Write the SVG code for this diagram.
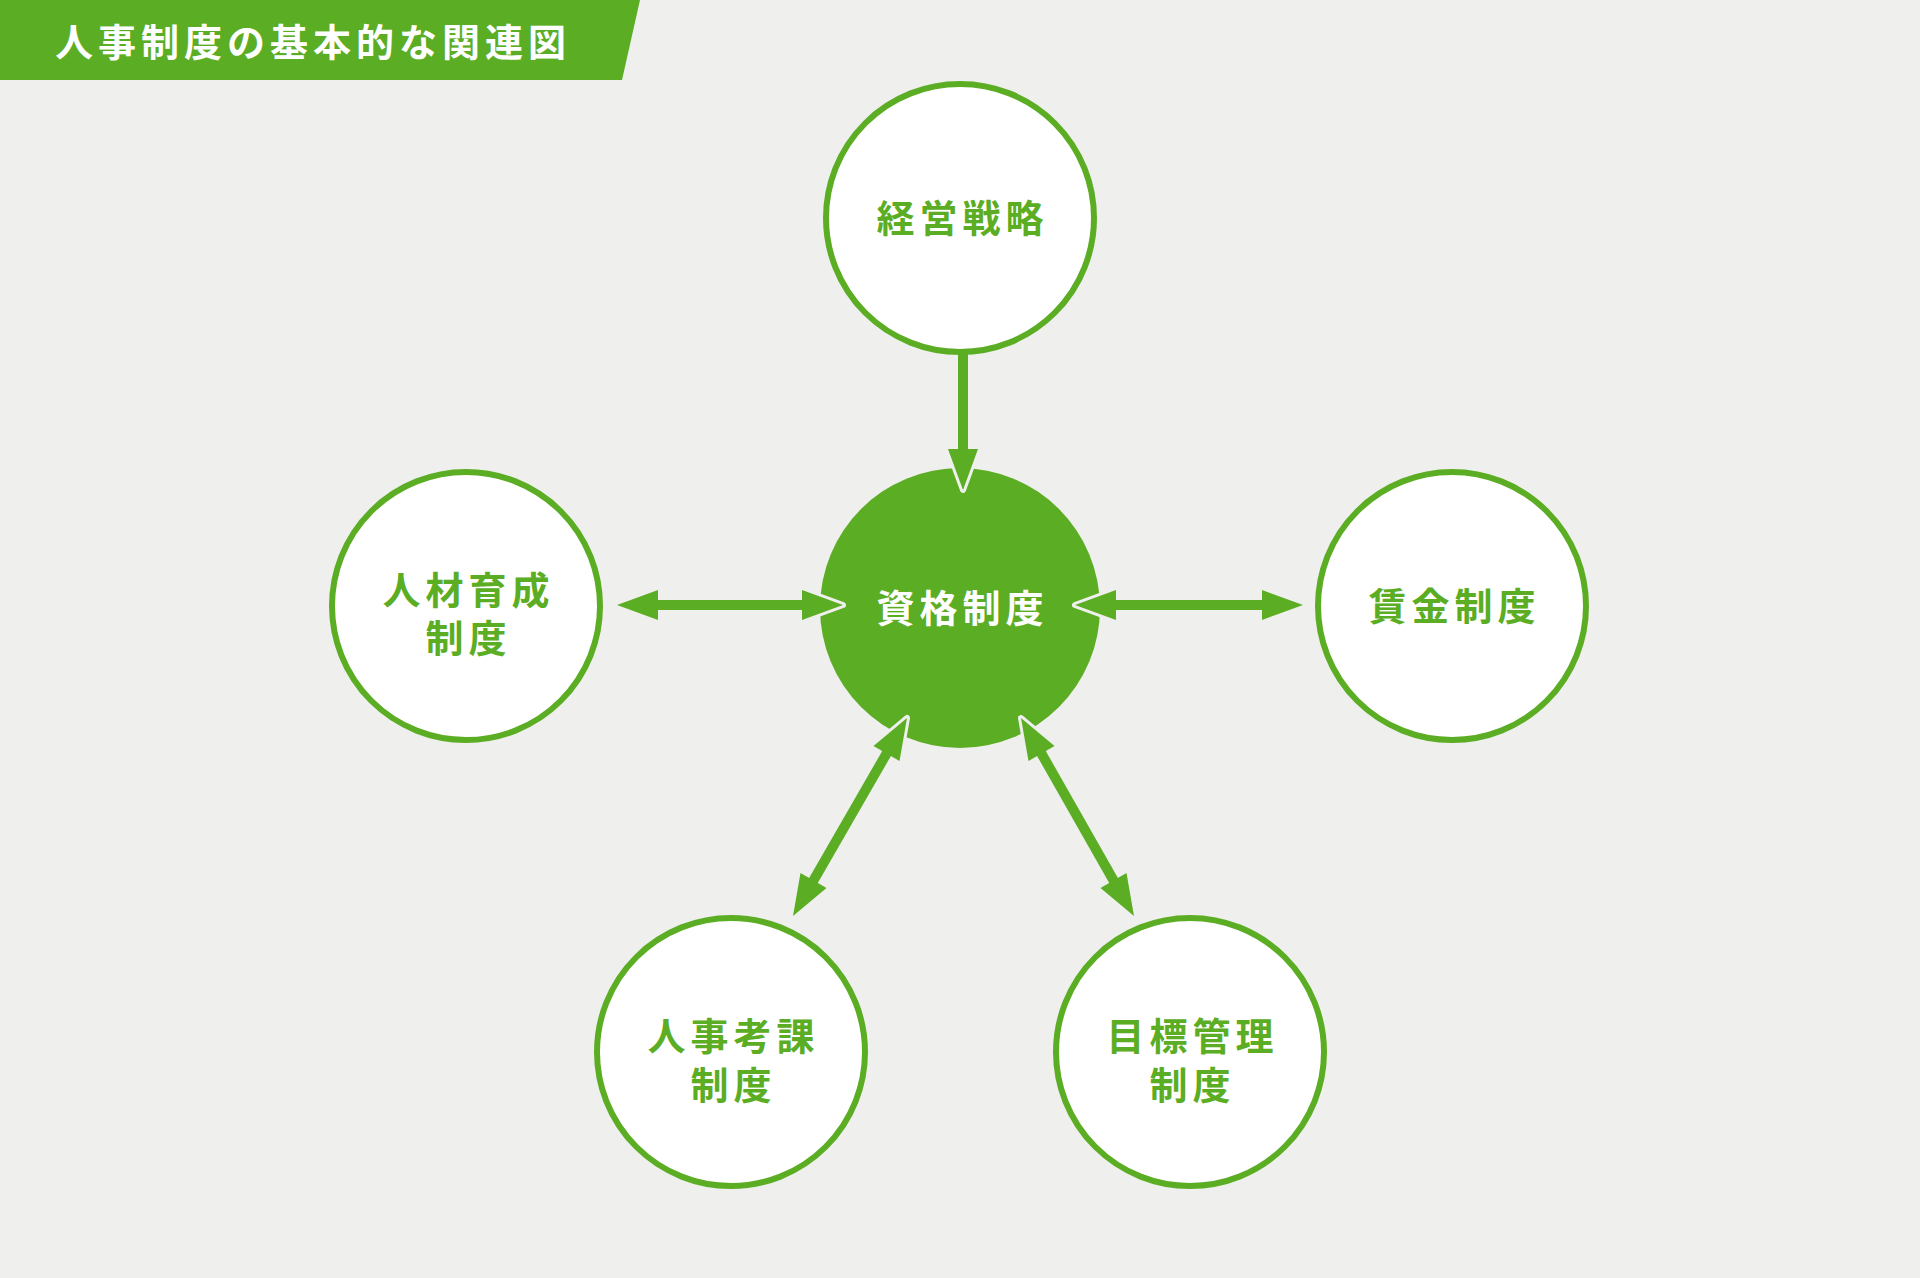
<svg xmlns="http://www.w3.org/2000/svg" width="1920" height="1278" viewBox="0 0 1920 1278">
<style>
.bg{fill:#efefed}
.node{fill:#ffffff;stroke:#5bad23;stroke-width:6}
.core{fill:#5bad23}
.lbl{font-family:"Noto Sans CJK JP","Noto Sans CJK SC",sans-serif;font-weight:700;font-size:38px;letter-spacing:5px;text-anchor:middle;fill:#5bad23}
.lbl.w{fill:#ffffff}
.title{font-family:"Noto Sans CJK JP","Noto Sans CJK SC",sans-serif;font-weight:700;font-size:38px;letter-spacing:5px;fill:#ffffff}
.head{fill:#5bad23;stroke:#efefed;stroke-width:6;stroke-linejoin:round;paint-order:stroke}
.shaft{stroke:#5bad23;stroke-width:10;fill:none}
</style>
<rect class="bg" x="0" y="0" width="1920" height="1278"/>
<g id="title">
<polygon points="0,0 640,0 622,80 0,80" fill="#5bad23"/>
<text class="title" x="55" y="56">人事制度の基本的な関連図</text>
</g>
<g id="node-strategy">
<circle class="node" cx="960" cy="218" r="134"/>
<text class="lbl" x="962.5" y="232">経営戦略</text>
</g>
<g id="node-qualification">
<circle class="core" cx="960" cy="608" r="140"/>
<text class="lbl w" x="962.5" y="622">資格制度</text>
</g>
<g id="node-development">
<circle class="node" cx="466" cy="606" r="134"/>
<text class="lbl"><tspan x="468.5" y="604">人材育成</tspan><tspan x="468.5" y="652">制度</tspan></text>
</g>
<g id="node-wage">
<circle class="node" cx="1452" cy="606" r="134"/>
<text class="lbl" x="1454.5" y="620">賃金制度</text>
</g>
<g id="node-evaluation">
<circle class="node" cx="731" cy="1052" r="134"/>
<text class="lbl"><tspan x="733.5" y="1050">人事考課</tspan><tspan x="733.5" y="1099">制度</tspan></text>
</g>
<g id="node-objectives">
<circle class="node" cx="1190" cy="1052" r="134"/>
<text class="lbl"><tspan x="1192.5" y="1050">目標管理</tspan><tspan x="1192.5" y="1099">制度</tspan></text>
</g>
<g id="connectors">
<g id="c-strategy-qualification">
<polygon class="head" points="948,449 978,449 963,490"/>
<line class="shaft" x1="963" y1="352" x2="963" y2="452"/>
</g>
<g id="c-development-qualification">
<polygon class="head" points="617,605 658,590 658,620"/>
<polygon class="head" points="843,605 802,590 802,620"/>
<line class="shaft" x1="655" y1="605" x2="805" y2="605"/>
</g>
<g id="c-qualification-wage">
<polygon class="head" points="1075,605 1116,590 1116,620"/>
<polygon class="head" points="1303,605 1262,590 1262,620"/>
<line class="shaft" x1="1113" y1="605" x2="1265" y2="605"/>
</g>
<g id="c-qualification-evaluation">
<polygon class="head" points="907,718 899.5,761 873.5,746"/>
<polygon class="head" points="793,916 826.5,888 800.5,873"/>
<line class="shaft" x1="888" y1="751" x2="812" y2="883"/>
</g>
<g id="c-qualification-objectives">
<polygon class="head" points="1021,718 1054.5,746 1028.5,761"/>
<polygon class="head" points="1134,916 1126.5,873 1100.5,888"/>
<line class="shaft" x1="1040" y1="751" x2="1115" y2="883"/>
</g>
</g>
</svg>
